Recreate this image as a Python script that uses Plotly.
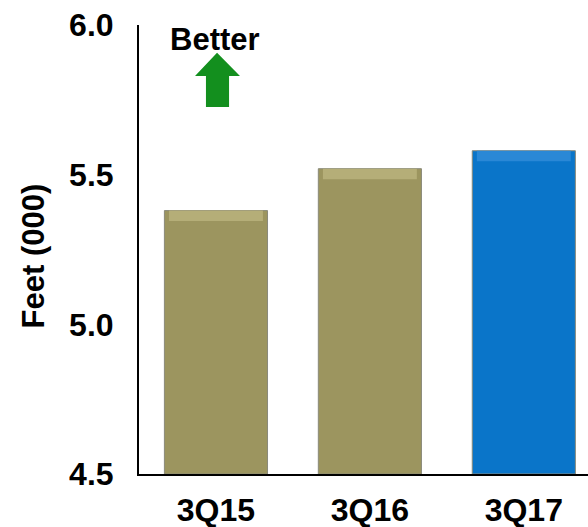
import plotly.graph_objects as go

categories = ["3Q15", "3Q16", "3Q17"]
values = [5.38, 5.52, 5.58]
bar_colors = ["#9C955F", "#9C955F", "#0A75C9"]
highlight_colors = ["#B5AE78", "#B5AE78", "#2A88D6"]
y_ticks = [4.5, 5.0, 5.5, 6.0]
y_tick_labels = ["4.5", "5.0", "5.5", "6.0"]
band = 0.035

FONT = "Liberation Sans, Arial, sans-serif"

fig = go.Figure()
fig.add_trace(go.Bar(
    x=categories, y=[v - 4.5 for v in values], base=4.5,
    marker=dict(color=bar_colors, line=dict(color="#8a8a7a", width=1)),
    width=0.67, showlegend=False, hoverinfo="skip",
))
fig.add_trace(go.Bar(
    x=categories, y=[band] * len(values), base=[v - band for v in values],
    marker=dict(color=highlight_colors, line=dict(width=0)),
    width=0.61, showlegend=False, hoverinfo="skip",
))

# green "better" arrow
arrow = ("M 0.007,5.907 L 0.156,5.830 L 0.085,5.830 L 0.085,5.726 "
         "L -0.065,5.726 L -0.065,5.830 L -0.136,5.830 Z")
fig.add_shape(type="path", path=arrow, xref="x", yref="y",
              fillcolor="#138F1E", line=dict(width=0))
fig.add_annotation(text="<b>Better</b>", x=-0.006, y=5.95, xref="x", yref="y",
                   showarrow=False, font=dict(family=FONT, size=31, color="black"),
                   xanchor="center", yanchor="middle")
fig.add_annotation(text="<b>Feet (000)</b>", x=-0.234, y=0.5, xref="paper", yref="paper",
                   showarrow=False, textangle=-90,
                   font=dict(family=FONT, size=31, color="black"),
                   xanchor="center", yanchor="middle", yshift=-6)

fig.update_layout(
    width=588, height=527,
    margin=dict(l=139, r=0, t=25, b=53, autoexpand=False),
    paper_bgcolor="white", plot_bgcolor="white",
    barmode="overlay",
    font=dict(family=FONT, color="black"),
)
fig.update_xaxes(
    range=[-0.5, 2.417], showline=True, linecolor="black", linewidth=2,
    showgrid=False, zeroline=False, ticks="", automargin=False,
    tickfont=dict(family=FONT, size=32, color="black"),
    tickvals=categories, ticktext=[f"<b>{c}</b>" for c in categories],
    ticklabelstandoff=7,
)
fig.update_yaxes(
    range=[4.5, 6.0], showline=True, linecolor="black", linewidth=2,
    showgrid=False, zeroline=False, ticks="", automargin=False,
    tickvals=y_ticks, ticktext=[f"<b>{t}</b>" for t in y_tick_labels],
    tickfont=dict(family=FONT, size=32, color="black"),
    ticklabelstandoff=17,
)
fig.write_html("out.html")
